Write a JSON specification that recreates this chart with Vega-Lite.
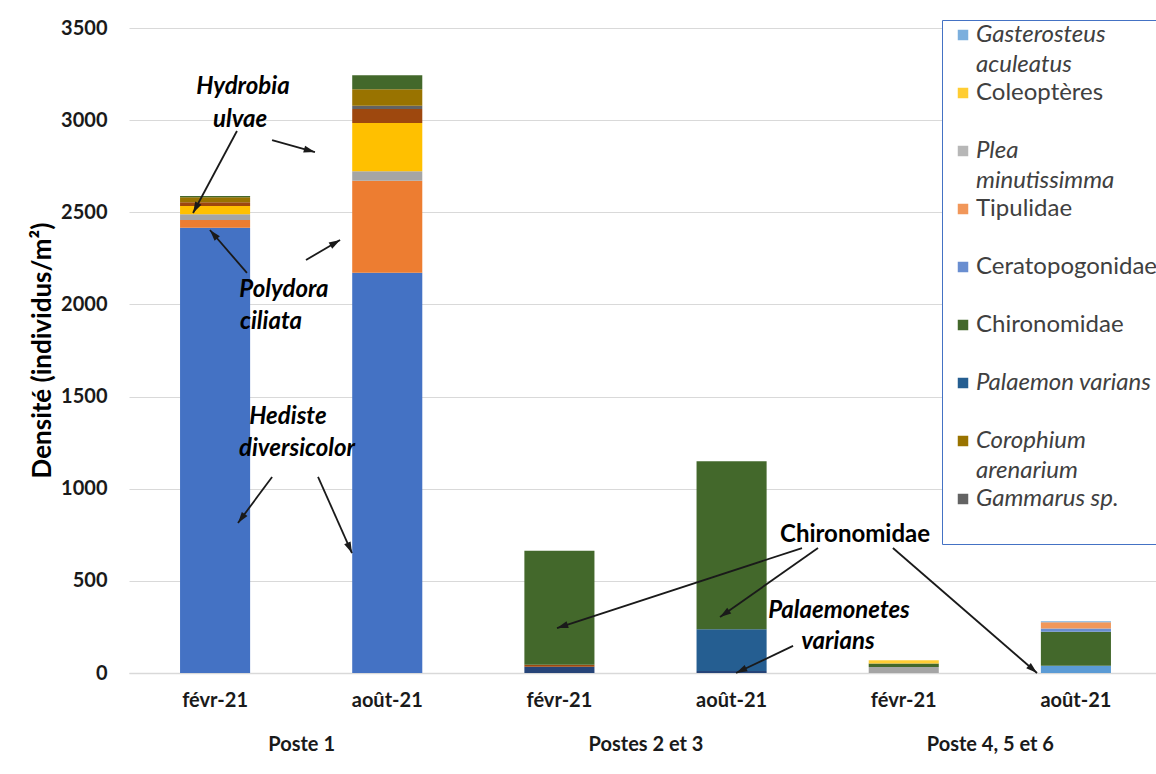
{
  "$schema": "https://vega.github.io/schema/vega-lite/v6.json",
  "width": 1033,
  "height": 645,
  "autosize": {"type": "none"},
  "padding": {"left": 129, "top": 28, "right": 0, "bottom": 101},
  "background": "white",
  "config": {"font": "Lato", "view": {"stroke": null}},
  "datasets": {
    "densites": [
      {"cat": "Poste 1|févr-21", "taxon": "Hediste diversicolor", "densite": 2416},
      {"cat": "Poste 1|févr-21", "taxon": "Polydora ciliata", "densite": 42},
      {"cat": "Poste 1|févr-21", "taxon": "Autre taxon 3", "densite": 31},
      {"cat": "Poste 1|févr-21", "taxon": "Hydrobia ulvae", "densite": 45},
      {"cat": "Poste 1|févr-21", "taxon": "Autre taxon 8", "densite": 20},
      {"cat": "Poste 1|févr-21", "taxon": "Corophium arenarium", "densite": 27},
      {"cat": "Poste 1|févr-21", "taxon": "Chironomidae", "densite": 8},
      {"cat": "Poste 1|août-21", "taxon": "Hediste diversicolor", "densite": 2172},
      {"cat": "Poste 1|août-21", "taxon": "Polydora ciliata", "densite": 499},
      {"cat": "Poste 1|août-21", "taxon": "Autre taxon 3", "densite": 51},
      {"cat": "Poste 1|août-21", "taxon": "Hydrobia ulvae", "densite": 262},
      {"cat": "Poste 1|août-21", "taxon": "Autre taxon 8", "densite": 76},
      {"cat": "Poste 1|août-21", "taxon": "Gammarus sp.", "densite": 18},
      {"cat": "Poste 1|août-21", "taxon": "Corophium arenarium", "densite": 90},
      {"cat": "Poste 1|août-21", "taxon": "Chironomidae", "densite": 76},
      {"cat": "Postes 2 et 3|févr-21", "taxon": "Autre taxon 7", "densite": 34},
      {"cat": "Postes 2 et 3|févr-21", "taxon": "Autre taxon 8", "densite": 11},
      {"cat": "Postes 2 et 3|févr-21", "taxon": "Chironomidae", "densite": 618},
      {"cat": "Postes 2 et 3|août-21", "taxon": "Autre taxon 7", "densite": 11},
      {"cat": "Postes 2 et 3|août-21", "taxon": "Palaemon varians", "densite": 226},
      {"cat": "Postes 2 et 3|août-21", "taxon": "Chironomidae", "densite": 912},
      {"cat": "Poste 4, 5 et 6|févr-21", "taxon": "Autre taxon 3", "densite": 33},
      {"cat": "Poste 4, 5 et 6|févr-21", "taxon": "Chironomidae", "densite": 18},
      {"cat": "Poste 4, 5 et 6|févr-21", "taxon": "Coleoptères", "densite": 18},
      {"cat": "Poste 4, 5 et 6|août-21", "taxon": "Autre taxon 5", "densite": 40},
      {"cat": "Poste 4, 5 et 6|août-21", "taxon": "Chironomidae", "densite": 184},
      {"cat": "Poste 4, 5 et 6|août-21", "taxon": "Ceratopogonidae", "densite": 18},
      {"cat": "Poste 4, 5 et 6|août-21", "taxon": "Tipulidae", "densite": 34},
      {"cat": "Poste 4, 5 et 6|août-21", "taxon": "Gasterosteus aculeatus", "densite": 5}
    ],
    "etiquettes": [
      {"texte": "Hydrobia", "xa": 0.662, "ya": 3180},
      {"texte": "ulvae", "xa": 0.645, "ya": 3003},
      {"texte": "Polydora", "xa": 0.9, "ya": 2078},
      {"texte": "ciliata", "xa": 0.825, "ya": 1905},
      {"texte": "Hediste", "xa": 0.923, "ya": 1389},
      {"texte": "diversicolor", "xa": 0.976, "ya": 1216},
      {"texte": "Chironomidae", "xa": 4.217, "ya": 749},
      {"texte": "Palaemonetes", "xa": 4.124, "ya": 336},
      {"texte": "varians", "xa": 4.118, "ya": 168}
    ],
    "fleches": [
      {"xs": 0.627, "ys": 2941, "xe": 0.372, "ye": 2496},
      {"xs": 0.831, "ys": 2892, "xe": 1.08, "ye": 2827},
      {"xs": 0.685, "ys": 2171, "xe": 0.47, "ye": 2404},
      {"xs": 1.028, "ys": 2241, "xe": 1.226, "ye": 2350},
      {"xs": 0.831, "ys": 1064, "xe": 0.633, "ye": 814},
      {"xs": 1.098, "ys": 1064, "xe": 1.295, "ye": 651},
      {"xs": 3.909, "ys": 678, "xe": 2.486, "ye": 244},
      {"xs": 4.002, "ys": 678, "xe": 3.433, "ye": 304},
      {"xs": 4.437, "ys": 678, "xe": 5.274, "ye": 0},
      {"xs": 3.857, "ys": 147, "xe": 3.526, "ye": 0}
    ]
  },
  "resolve": {"scale": {"x": "independent"}, "axis": {"x": "independent"}},
  "layer": [
    {
      "data": {"name": "densites"},
      "transform": [
        {"calculate": "indexof(['Hediste diversicolor', 'Polydora ciliata', 'Autre taxon 3', 'Hydrobia ulvae', 'Autre taxon 5', 'Autre taxon 7', 'Autre taxon 8', 'Gammarus sp.', 'Corophium arenarium', 'Palaemon varians', 'Chironomidae', 'Ceratopogonidae', 'Tipulidae', 'Plea minutissimma', 'Coleoptères', 'Gasterosteus aculeatus'], datum.taxon)", "as": "rang"}
      ],
      "mark": {"type": "bar"},
      "encoding": {
        "x": {
          "field": "cat", "type": "nominal", "sort": null,
          "scale": {"paddingInner": 0.593, "paddingOuter": 0.2965},
          "axis": {
            "labelExpr": "split(datum.value, '|')[1]",
            "ticks": false, "domain": true, "domainColor": "#D9D9D9", "domainWidth": 1.5,
            "labelPadding": 17, "labelFontSize": 20, "labelFontWeight": "bold",
            "labelColor": "#1a1a1a", "labelAngle": 0, "title": null, "grid": false
          }
        },
        "y": {
          "field": "densite", "type": "quantitative", "stack": "zero",
          "scale": {"domain": [0, 3500], "nice": false},
          "axis": {
            "values": [0, 500, 1000, 1500, 2000, 2500, 3000, 3500], "format": "d",
            "grid": true, "gridColor": "#D9D9D9", "gridWidth": 1,
            "domain": false, "ticks": false, "labelPadding": 22,
            "labelFontSize": 20, "labelFontWeight": "bold", "labelColor": "#1a1a1a",
            "title": "Densité (individus/m²)", "titleFontSize": 26, "titleFontWeight": "bold",
            "titleColor": "#000000", "titleX": -87, "titleY": 322, "titleAngle": -90,
            "titleBaseline": "middle", "titleAlign": "center"
          }
        },
        "order": {"field": "rang", "type": "quantitative", "sort": "ascending"},
        "color": {
          "field": "taxon", "type": "nominal",
          "scale": {
            "domain": ["Hediste diversicolor", "Polydora ciliata", "Autre taxon 3", "Hydrobia ulvae", "Autre taxon 5", "Autre taxon 7", "Autre taxon 8", "Gammarus sp.", "Corophium arenarium", "Palaemon varians", "Chironomidae", "Ceratopogonidae", "Tipulidae", "Plea minutissimma", "Coleoptères", "Gasterosteus aculeatus"],
            "range": ["#4472C4", "#ED7D31", "#A5A5A5", "#FFC000", "#5B9BD5", "#264478", "#9E480E", "#636363", "#997300", "#255E91", "#43682B", "#698ED0", "#F1975A", "#B7B7B7", "#FFCD33", "#7CAFDD"]
          },
          "legend": {
            "values": ["Gasterosteus aculeatus", "Coleoptères", "Plea minutissimma", "Tipulidae", "Ceratopogonidae", "Chironomidae", "Palaemon varians", "Corophium arenarium", "Gammarus sp."],
            "orient": "none", "legendX": 813, "legendY": -8,
            "title": null, "symbolType": "square", "symbolSize": 110, "symbolStrokeWidth": 0,
            "symbolOffset": 6,
            "labelFontSize": 24, "labelColor": "#404040", "labelLimit": 400, "labelOffset": 1,
            "rowPadding": 3, "padding": 3,
            "strokeColor": "#4472C4", "fillColor": "white", "labelBaseline": "top",
            "labelExpr": "datum.value == 'Gasterosteus aculeatus' ? ['Gasterosteus', 'aculeatus'] : datum.value == 'Plea minutissimma' ? ['Plea', 'minutissimma'] : datum.value == 'Corophium arenarium' ? ['Corophium', 'arenarium'] : [datum.label, '']",
            "encode": {
              "labels": {
                "update": {
                  "fontStyle": {"signal": "indexof(['Coleoptères', 'Tipulidae', 'Ceratopogonidae', 'Chironomidae'], datum.value) >= 0 ? 'normal' : 'italic'"},
                  "dy": {"value": -12.5},
                  "lineHeight": {"value": 30}
                }
              }
            }
          }
        }
      }
    },
    {
      "layer": [
        {
          "data": {"name": "etiquettes"},
          "transform": [{"filter": "datum.texte != 'Chironomidae'"}],
          "mark": {"type": "text", "fontSize": 24, "fontWeight": "bold", "fontStyle": "italic", "color": "#000000"},
          "encoding": {
            "x": {
              "field": "xa", "type": "quantitative",
              "scale": {"domain": [0, 6], "nice": false, "zero": false},
              "axis": {
                "orient": "bottom", "values": [1, 3, 5],
                "labelExpr": "datum.value == 1 ? 'Poste 1' : datum.value == 3 ? 'Postes 2 et 3' : 'Poste 4, 5 et 6'",
                "ticks": false, "domain": false, "grid": false, "labelPadding": 61,
                "labelFontSize": 20, "labelFontWeight": "bold", "labelColor": "#1a1a1a",
                "title": null, "labelFlush": false
              }
            },
            "y": {"field": "ya", "type": "quantitative"},
            "text": {"field": "texte"}
          }
        },
        {
          "data": {"name": "etiquettes"},
          "transform": [{"filter": "datum.texte == 'Chironomidae'"}],
          "mark": {"type": "text", "fontSize": 24, "fontWeight": "bold", "color": "#000000"},
          "encoding": {
            "x": {"field": "xa", "type": "quantitative"},
            "y": {"field": "ya", "type": "quantitative"},
            "text": {"field": "texte"}
          }
        },
        {
          "data": {"name": "fleches"},
          "mark": {"type": "rule", "strokeWidth": 1.8, "color": "#1a1a1a"},
          "encoding": {
            "x": {"field": "xs", "type": "quantitative"},
            "y": {"field": "ys", "type": "quantitative"},
            "x2": {"field": "xe"},
            "y2": {"field": "ye"}
          }
        },
        {
          "data": {"name": "fleches"},
          "transform": [{"calculate": "atan2((datum.xe - datum.xs) * 172.17, (datum.ye - datum.ys) * 0.18429) * 180 / PI", "as": "angle"}],
          "mark": {"type": "point", "shape": "M0,0L-0.5,1.6L0.5,1.6Z", "filled": true, "size": 196, "color": "#1a1a1a", "opacity": 1, "strokeWidth": 0},
          "encoding": {
            "x": {"field": "xe", "type": "quantitative"},
            "y": {"field": "ye", "type": "quantitative"},
            "angle": {"field": "angle", "type": "quantitative", "scale": null}
          }
        }
      ]
    }
  ]
}
